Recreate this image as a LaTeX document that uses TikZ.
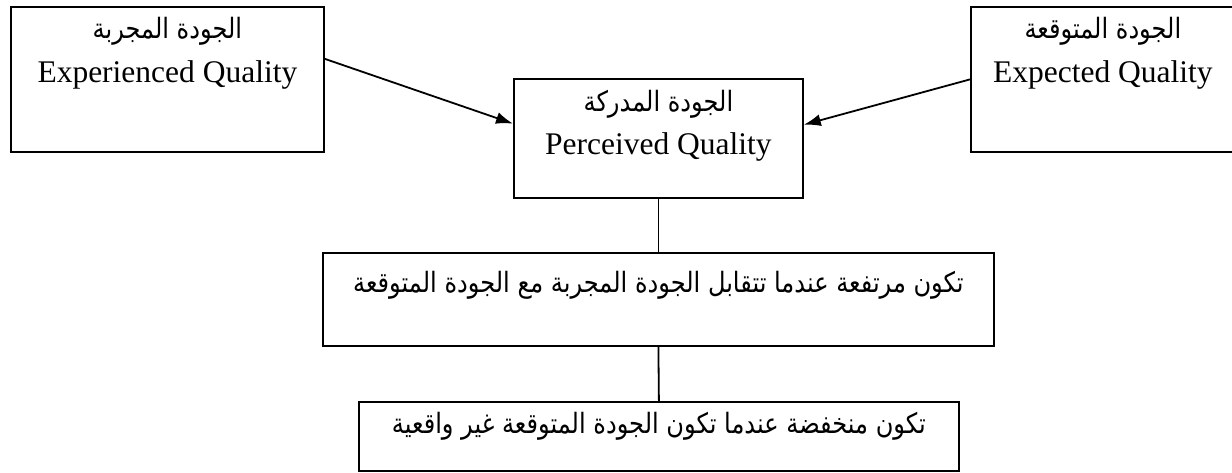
\documentclass[tikz,border=0pt]{standalone}
\usepackage{fontspec}
\setmainfont{Liberation Serif}
\newfontfamily\arabicfont[Script=Arabic]{DejaVu Sans}
\TeXXeTstate=1
\usetikzlibrary{arrows.meta,calc}
% Arabic line: taller glyphs, same run width
\newcommand{\arline}[1]{\scalebox{0.86}[1]{\arabicfont\fontsize{28}{32}\selectfont\beginR #1\endR}}
\begin{document}
\begin{tikzpicture}[x=1pt,y=-1pt,
  box/.style={draw,line width=1.8pt,rectangle,inner sep=0pt,anchor=north west},
  en/.style={anchor=base,inner sep=0pt,font=\fontsize{31.5}{36}\selectfont},
  ar/.style={anchor=base,inner sep=0pt},
  link/.style={line width=1.8pt},
  arrowlink/.style={line width=1.8pt,-{Latex[length=17pt,width=12pt]}}]
\useasboundingbox (0,0) rectangle (1232,473);
% quality boxes
\node[box,minimum width=313pt,minimum height=145pt] (exq) at (10,6) {};
\node[box,minimum width=264pt,minimum height=145pt] (exp) at (970,6) {};
\node[box,minimum width=289pt,minimum height=119pt] (per) at (513,78) {};
\node[box,minimum width=671pt,minimum height=93pt] (high) at (322,252) {};
\node[box,minimum width=600pt,minimum height=69pt] (low) at (358,401) {};
% box texts
\node[ar] (exqar) at ($(exq.north)+(0,33)$) {\arline{الجودة المجربة}};
\node[en] (exqen) at ($(exq.north)+(0,77)$) {Experienced Quality};
\node[ar] (expar) at ($(exp.north)+(0,33)$) {\arline{الجودة المتوقعة}};
\node[en] (expen) at ($(exp.north)+(0,77)$) {Expected Quality};
\node[ar] (perar) at ($(per.north)+(0,34)$) {\arline{الجودة المدركة}};
\node[en] (peren) at ($(per.north)+(0,77)$) {Perceived Quality};
\node[ar] (highar) at ($(high.north)+(0,40)$) {\arline{تكون مرتفعة عندما تتقابل الجودة المجربة مع الجودة المتوقعة}};
\node[ar] (lowar) at ($(low.north)+(0,32)$) {\arline{تكون منخفضة عندما تكون الجودة المتوقعة غير واقعية}};
% connectors
\draw[arrowlink] ($(exq.north east)!0.36!(exq.south east)$) -- ($(per.north west)!0.378!(per.south west)$);
\draw[arrowlink] (exp.west) -- ($(per.north east)!0.387!(per.south east)$);
\draw[link] (per.south) -- (high.north);
\draw[link] (high.south) -- (low.north);
\end{tikzpicture}
\end{document}
